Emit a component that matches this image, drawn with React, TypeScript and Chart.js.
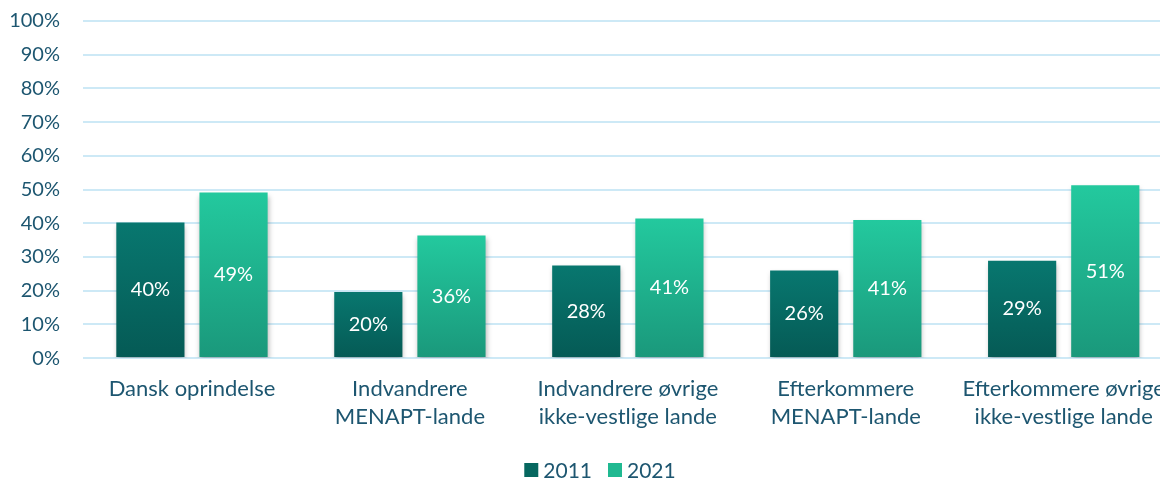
import React, { useEffect, useRef } from "react";
import { Chart, registerables } from "chart.js";

Chart.register(...registerables);

const categories: string[][] = [
  ["Dansk oprindelse"],
  ["Indvandrere", "MENAPT-lande"],
  ["Indvandrere øvrige", "ikke-vestlige lande"],
  ["Efterkommere", "MENAPT-lande"],
  ["Efterkommere øvrige", "ikke-vestlige lande"],
];
const series2011: number[] = [40.2, 19.6, 27.5, 26.0, 28.9];
const series2021: number[] = [49.1, 36.4, 41.4, 41.0, 51.3];
const labels2011: string[] = ["40%", "20%", "28%", "26%", "29%"];
const labels2021: string[] = ["49%", "36%", "41%", "41%", "51%"];
const seriesNames: string[] = ["2011", "2021"];
const legendColors: string[] = ["#06675f", "#20b991"];

const FONT = "Lato, 'Open Sans', sans-serif";
const TEXT = "#1d5670";

const gradFor = (top: string, bottom: string) => (ctx: any) => {
  const chart = ctx.chart;
  const ys = chart.scales?.y;
  if (!ys || ctx.raw === undefined) return top;
  const y0 = ys.getPixelForValue(ctx.raw);
  const y1 = ys.getPixelForValue(0);
  if (!isFinite(y0) || !isFinite(y1) || y0 === y1) return top;
  const g = chart.ctx.createLinearGradient(0, y0, 0, y1);
  g.addColorStop(0, top);
  g.addColorStop(1, bottom);
  return g;
};

const shadowPlugin = {
  id: "barShadow",
  beforeDatasetsDraw(chart: any) {
    const c = chart.ctx;
    c.save();
    c.shadowColor = "rgba(0,0,0,0.28)";
    c.shadowBlur = 5;
    c.shadowOffsetX = 1;
    c.shadowOffsetY = 3;
  },
  afterDatasetsDraw(chart: any) {
    chart.ctx.restore();
  },
};

const labelPlugin = {
  id: "barLabels",
  afterDatasetsDraw(chart: any) {
    const c = chart.ctx;
    const lbls = [labels2011, labels2021];
    c.save();
    c.font = `20px ${FONT}`;
    c.fillStyle = "#ffffff";
    c.textAlign = "center";
    c.textBaseline = "middle";
    chart.data.datasets.forEach((_: any, di: number) => {
      const meta = chart.getDatasetMeta(di);
      meta.data.forEach((bar: any, i: number) => {
        const yMid = (bar.y + bar.base) / 2;
        c.fillText(lbls[di][i], bar.x, yMid);
      });
    });
    c.restore();
  },
};

const legendPlugin = {
  id: "customLegend",
  afterDraw(chart: any) {
    const c = chart.ctx;
    c.save();
    c.font = `21px ${FONT}`;
    c.textBaseline = "middle";
    c.textAlign = "left";
    const box = 14, gapText = 5, gapItem = 16;
    const widths = seriesNames.map((s) => c.measureText(s).width);
    const total = widths.reduce((a, w) => a + box + gapText + w, 0) + gapItem * (seriesNames.length - 1);
    const cx = 600;
    const cy = 470;
    let x = cx - total / 2;
    seriesNames.forEach((s, i) => {
      c.fillStyle = legendColors[i];
      c.fillRect(x, cy - box / 2, box, box);
      x += box + gapText;
      c.fillStyle = TEXT;
      c.fillText(s, x, cy + 1);
      x += widths[i] + gapItem;
    });
    c.restore();
  },
};

export default function App() {
  const ref = useRef<HTMLCanvasElement | null>(null);
  useEffect(() => {
    if (!ref.current) return;
    const chart = new Chart(ref.current, {
      type: "bar",
      data: {
        labels: categories as any,
        datasets: [
          {
            label: seriesNames[0],
            data: series2011,
            backgroundColor: gradFor("#08776f", "#055a55") as any,
            categoryPercentage: 0.763,
            barPercentage: 0.82,
          },
          {
            label: seriesNames[1],
            data: series2021,
            backgroundColor: gradFor("#23c99e", "#1a987b") as any,
            categoryPercentage: 0.763,
            barPercentage: 0.82,
          },
        ],
      },
      options: {
        animation: false,
        responsive: false,
        maintainAspectRatio: false,
        layout: { padding: { top: 0, left: 0, right: 2, bottom: 32 } },
        scales: {
          x: {
            grid: { display: false, drawTicks: false },
            border: { display: false },
            ticks: {
              color: TEXT,
              font: { family: FONT, size: 22, lineHeight: 1.27 },
              padding: 17,
              maxRotation: 0,
              autoSkip: false,
            },
          },
          y: {
            min: 0,
            max: 100,
            grid: { color: "#cde9f6", lineWidth: 2, drawTicks: false },
            border: { display: false },
            ticks: {
              stepSize: 10,
              color: TEXT,
              font: { family: FONT, size: 20 },
              padding: 23,
              callback: (v: any) => `${v}%`,
            },
            afterFit: (s: any) => {
              s.width = 83;
              s.paddingTop = 21;
              s.paddingBottom = 0;
            },
          },
        },
        plugins: {
          legend: { display: false },
          tooltip: { enabled: false },
        },
      },
      plugins: [shadowPlugin, labelPlugin, legendPlugin],
    });
    return () => chart.destroy();
  }, []);
  return (
    <div style={{ position: "fixed", left: 0, top: 0, width: 1160, height: 480, overflow: "hidden", background: "#fff" }}>
      <canvas ref={ref} width={1182} height={480} style={{ display: "block" }} />
    </div>
  );
}
